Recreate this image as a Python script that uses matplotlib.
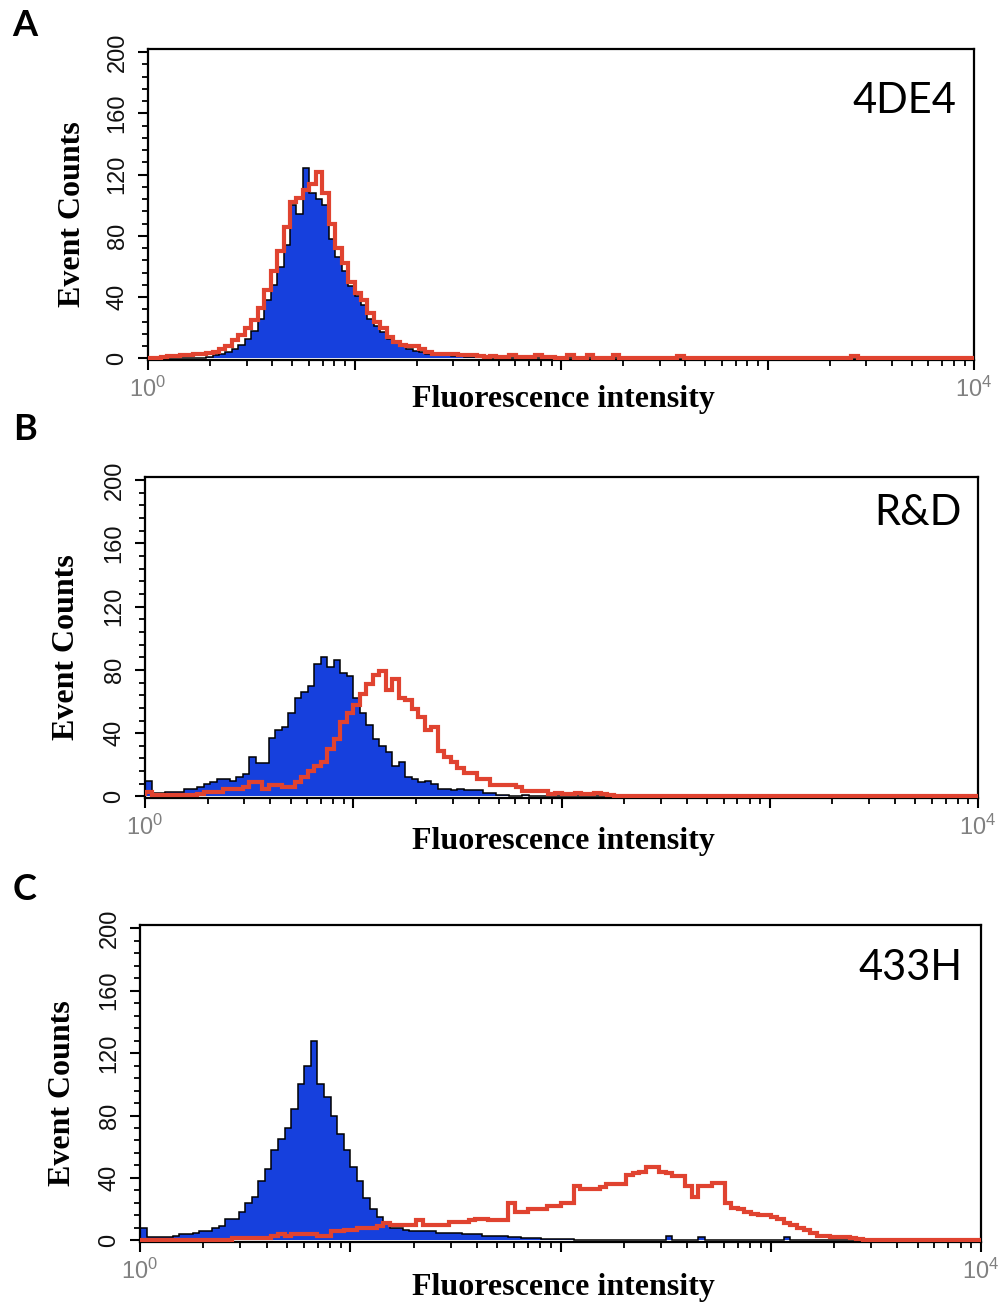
import matplotlib
matplotlib.use("Agg")
import matplotlib.pyplot as plt
import numpy as np
from matplotlib.ticker import LogLocator, MultipleLocator, NullFormatter

plt.rcParams['mathtext.fontset'] = 'custom'
plt.rcParams['mathtext.rm'] = 'Liberation Sans'
plt.rcParams['mathtext.it'] = 'Liberation Sans'

# 128 log channels over 4 decades (10^0 .. 10^4)
n_channels = 128
edges = 10 ** (np.arange(n_channels + 1) / 32)

# panel names
panel_letters = ['A', 'B', 'C']
antibodies = ['4DE4', 'R&D', '433H']

# event counts per channel, (first channel, values); channels not listed are 0
a_blue_start = 8
a_blue = [0.5, 1, 2, 3, 4, 6, 9, 13, 18, 26, 38, 48, 60, 74, 100, 94, 124, 108,
          104, 100, 78, 66, 57, 47, 41, 35, 26, 21, 17, 13, 10, 8, 6, 5, 4, 3,
          2, 2, 2, 1.5, 1.5, 1, 1, 1, 0.5, 0.5, 0.5, 0.5]
a_red_start = 0
a_red = [0.5, 0.5, 1, 1.5, 1.5, 2, 2, 3, 3, 3.5, 4, 6, 8, 12, 15, 20, 25, 33, 45,
         57, 70, 86, 102, 105, 110, 114, 122, 108, 88, 72, 62, 50, 43, 38, 30,
         24, 20, 14, 11, 9, 8, 8, 6, 4, 3, 3, 3, 3, 2.5, 2.5, 2, 1.5, 1, 1.5, 1,
         1, 2, 1, 1, 1, 2, 1, 1, 0.5, 0.5, 2, 0.5, 0.5, 2, 0.5, 0.5, 0.5, 2, 0.5,
         0.5, 0, 0, 0, 0, 0, 0, 0, 1.5, 0, 0, 0, 0, 0, 0, 0, 0, 0, 0, 0, 0, 0, 0,
         0, 0, 0, 0, 0, 0, 0, 0, 0, 0, 0, 0, 1.5]

b_blue_start = 0
b_blue = [10, 2, 2, 3, 3, 3, 5, 5, 6, 8, 9, 11, 11, 10, 12, 14, 25, 21, 21, 37,
          42, 44, 53, 62, 66, 70, 84, 88, 82, 86, 78, 76, 62, 53, 45, 36, 32, 28,
          19, 22, 12, 11, 9, 10, 8, 5, 5, 4, 5, 4, 4, 4, 2, 2, 1, 1, 0.5, 0.5, 1,
          0.5, 0.5]
b_red_start = 0
b_red = [3, 1, 1, 1, 1, 1, 1, 1, 1.5, 2.5, 2.5, 2.5, 4.5, 4.5, 4.5, 6, 9, 9, 4.5,
         7.5, 7.5, 6, 6, 9, 12, 16, 19, 22, 30, 36, 47, 53, 58, 65, 71, 77, 79,
         67, 74, 62, 61, 55, 50, 42, 44, 29, 25, 22, 18, 15, 15, 11, 11, 7.5, 7.5,
         7.5, 7.5, 6, 3.5, 3.5, 3.5, 3.5, 1.5, 2, 1.5, 1.5, 2, 1.5, 1.5, 2, 1.5, 1]

c_blue_start = 0
c_blue = [8, 2, 2, 2, 2, 3, 4, 4, 5, 6, 6, 8, 9, 14, 14, 18, 24, 28, 38, 46, 58,
          65, 72, 84, 100, 112, 128, 100, 92, 80, 68, 58, 47, 38, 27, 20, 15, 12,
          8, 8, 7, 6, 6, 6, 6, 5, 5, 5, 5, 4, 4, 4, 3, 3, 3, 3, 2, 2, 1.5, 1.5,
          1.5, 1, 1, 1, 1, 1, 0.5, 0, 0, 0, 0, 0, 0, 0, 0, 0, 0, 0, 0, 0, 3, 0, 0,
          0, 0, 2, 0, 0, 0, 0, 0, 0, 0, 0, 0, 0, 0, 0, 2]
c_red_start = 0
c_red = [0.5, 0.5, 0.5, 0.5, 0.5, 0.5, 0.5, 0.5, 0.5, 0.5, 0.5, 0.5, 0.5, 0.5,
         1.5, 1.5, 1.5, 1.5, 1.5, 1.5, 3, 4, 3, 4, 4, 4, 4, 3, 3, 6, 6, 7, 7, 8,
         8, 8, 9, 11, 10, 10, 10, 10, 13, 10, 10, 10, 10, 12, 12, 12, 13, 14, 14,
         13, 13, 13, 24, 18, 18, 20, 20, 20, 22, 22, 24, 24, 35, 33, 33, 33, 34,
         36, 36, 36, 42, 43, 44, 47, 47, 44, 43, 41, 41, 35, 28, 35, 35, 37, 37,
         24, 21, 20, 18, 17, 16, 16, 15, 14, 11, 10, 8, 7, 5, 3, 3, 2.5, 2.5, 2,
         1.5, 1]

series = [(a_blue_start, a_blue, a_red_start, a_red),
          (b_blue_start, b_blue, b_red_start, b_red),
          (c_blue_start, c_blue, c_red_start, c_red)]

BLUE = '#1640dd'
RED = '#e04330'


def full(start, vals):
    arr = np.zeros(n_channels)
    arr[start:start + len(vals)] = vals
    return arr


W, H = 1001, 1316
fig = plt.figure(figsize=(W / 100, H / 100), dpi=100)

# axes boxes in pixels: left, right, top, bottom
boxes = [(148, 974, 49, 360), (145, 978, 477, 798), (140, 981, 925, 1242)]
letter_pos = [(25, 25), (25, 430), (25, 890)]
name_pos = [(904, 101), (918, 513), (910, 968)]
xlabel_y = [400, 842, 1288]
ylabel_x = [73, 66, 62]

for i, (l, r, t, b) in enumerate(boxes):
    ax = fig.add_axes([l / W, 1 - b / H, (r - l) / W, (b - t) / H])
    bs, bv, rs, rv = series[i]
    blue = full(bs, bv)
    red = full(rs, rv)
    ax.stairs(blue, edges, fill=True, color=BLUE, baseline=0, zorder=2)
    ax.stairs(blue, edges, color='black', lw=1.1, baseline=0, zorder=2.1)
    ax.stairs(red, edges, color=RED, lw=3.0, baseline=0, zorder=3)

    ax.set_xscale('log')
    ax.set_xlim(1, 1e4)
    ax.set_ylim(-1, 202)
    ax.set_xticks([1, 10, 100, 1000, 10000],
                  labels=['$10^0$', '', '', '', '$10^4$'])
    ax.xaxis.set_minor_locator(LogLocator(base=10, subs=np.arange(2, 10)))
    ax.xaxis.set_minor_formatter(NullFormatter())
    ax.set_yticks([0, 40, 80, 120, 160, 200])
    ax.yaxis.set_minor_locator(MultipleLocator(8))

    ax.tick_params(axis='both', which='major', direction='out', length=7,
                   width=1.5, color='black')
    ax.tick_params(axis='both', which='minor', direction='out', length=4.5,
                   width=1.3, color='black')
    ax.tick_params(axis='y', which='major', labelsize=17, labelrotation=90,
                   pad=7, labelcolor='#111111')
    ax.tick_params(axis='x', which='major', labelsize=17, pad=5,
                   labelcolor='#808080')
    for lab in ax.get_yticklabels():
        lab.set_fontfamily('Liberation Sans')
        lab.set_va('center')
    for sp in ax.spines.values():
        sp.set_linewidth(1.6)
        sp.set_color('black')

    fig.text(letter_pos[i][0] / W, 1 - letter_pos[i][1] / H, panel_letters[i],
             fontsize=26, fontweight='bold', family='Lato',
             ha='center', va='center')
    fig.text(name_pos[i][0] / W, 1 - name_pos[i][1] / H, antibodies[i],
             fontsize=30, family='Lato', ha='center', va='center')
    fig.text(563 / W, 1 - xlabel_y[i] / H, 'Fluorescence intensity',
             fontsize=23, fontweight='bold', family='Liberation Serif',
             ha='center', va='center')
    fig.text(ylabel_x[i] / W, 1 - ((t + b) / 2 + 10) / H, 'Event Counts',
             fontsize=23, fontweight='bold', family='Liberation Serif',
             rotation=90, ha='center', va='center')

fig.savefig('out.png', dpi=100)
